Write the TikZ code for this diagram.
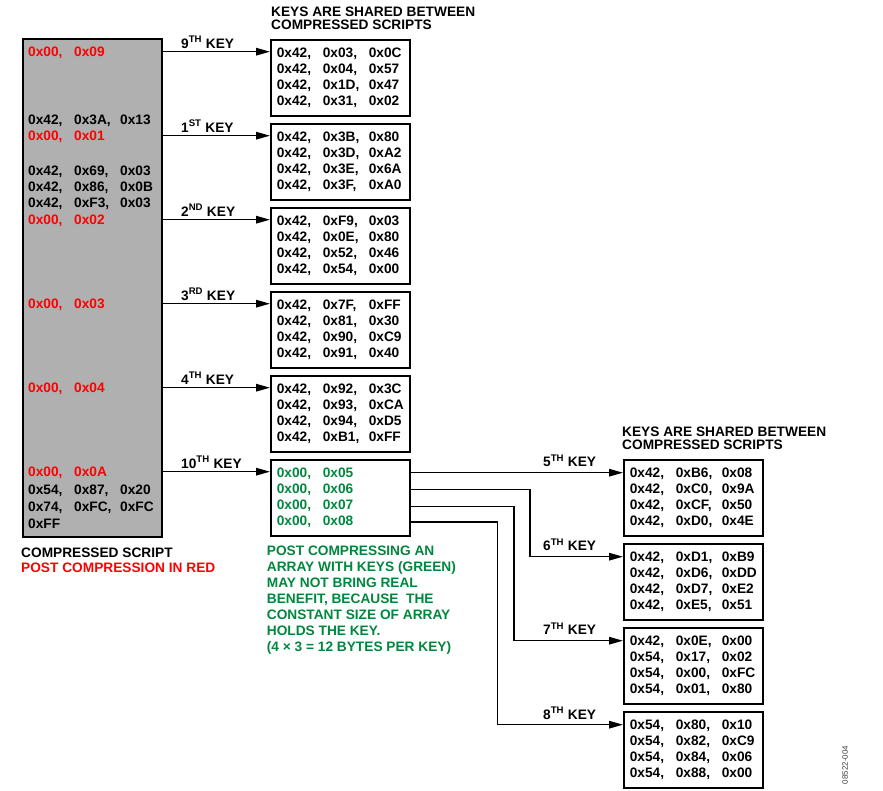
\documentclass[tikz,border=0pt]{standalone}
\usepackage{fontspec}
\setmainfont{Liberation Sans}
\usetikzlibrary{arrows.meta,calc}
\definecolor{adred}{RGB}{255,0,0}
\definecolor{adgreen}{RGB}{0,135,62}
\definecolor{boxgray}{RGB}{176,176,176}
\newcommand\hxrow[3]{\makebox[46pt][l]{#1}\makebox[46pt][l]{#2}#3}
\begin{document}
\begin{tikzpicture}[x=1pt,y=-1pt,
  txt/.style={font=\fontsize{13.7}{16.2}\selectfont\bfseries, inner sep=0pt},
  lbl/.style={txt, anchor=base west},
  keybox/.style={draw, line width=1.7pt, minimum width=139pt, minimum height=76pt,
    anchor=north west, text width=127pt, inner xsep=6pt, inner ysep=0pt, align=left,
    font=\fontsize{13.7}{16.2}\selectfont\bfseries},
  arr/.style={line width=1.5pt, -{Triangle[length=14pt,width=7.5pt]}},
]
\useasboundingbox (0,0) rectangle (883,791);

% compressed script box
\node[draw, line width=1.7pt, fill=boxgray, minimum width=139pt, minimum height=498pt,
      anchor=north west, inner sep=0pt] (gb) at (22,38) {};
\node[lbl, text=adred] (g1) at (28,56.4) {\hxrow{0x00,}{0x09}{}};
\node[lbl] (g2) at (28,125.0) {\hxrow{0x42,}{0x3A,}{0x13}};
\node[lbl, text=adred] (g3) at (28,140.4) {\hxrow{0x00,}{0x01}{}};
\node[lbl] (g4) at (28,175.4) {\hxrow{0x42,}{0x69,}{0x03}};
\node[lbl] (g5) at (28,191.1) {\hxrow{0x42,}{0x86,}{0x0B}};
\node[lbl] (g6) at (28,207.4) {\hxrow{0x42,}{0xF3,}{0x03}};
\node[lbl, text=adred] (g7) at (28,224.4) {\hxrow{0x00,}{0x02}{}};
\node[lbl, text=adred] (g8) at (28,308.4) {\hxrow{0x00,}{0x03}{}};
\node[lbl, text=adred] (g9) at (28,392.4) {\hxrow{0x00,}{0x04}{}};
\node[lbl, text=adred] (g10) at (28,476.4) {\hxrow{0x00,}{0x0A}{}};
\node[lbl] (g11) at (28,494.7) {\hxrow{0x54,}{0x87,}{0x20}};
\node[lbl] (g12) at (28,511.7) {\hxrow{0x74,}{0xFC,}{0xFC}};
\node[lbl] (g13) at (28,528.7) {0xFF};

\node[lbl] (cs1) at (21,557.3) {COMPRESSED SCRIPT};
\node[lbl, text=adred] (cs2) at (21,572.7) {POST COMPRESSION IN RED};

% headers
\node[lbl] (h1a) at (271,16.7) {KEYS ARE SHARED BETWEEN};
\node[lbl] (h1b) at (271,29.3) {COMPRESSED SCRIPTS};
\node[lbl] (h2a) at (622,436.7) {KEYS ARE SHARED BETWEEN};
\node[lbl] (h2b) at (622,449.3) {COMPRESSED SCRIPTS};

% left column key boxes
\node[keybox] (k9) at (270,39) {\hxrow{0x42,}{0x03,}{0x0C}\\\hxrow{0x42,}{0x04,}{0x57}\\\hxrow{0x42,}{0x1D,}{0x47}\\\hxrow{0x42,}{0x31,}{0x02}};
\node[keybox] (k1) at (270,123) {\hxrow{0x42,}{0x3B,}{0x80}\\\hxrow{0x42,}{0x3D,}{0xA2}\\\hxrow{0x42,}{0x3E,}{0x6A}\\\hxrow{0x42,}{0x3F,}{0xA0}};
\node[keybox] (k2) at (270,207) {\hxrow{0x42,}{0xF9,}{0x03}\\\hxrow{0x42,}{0x0E,}{0x80}\\\hxrow{0x42,}{0x52,}{0x46}\\\hxrow{0x42,}{0x54,}{0x00}};
\node[keybox] (k3) at (270,291) {\hxrow{0x42,}{0x7F,}{0xFF}\\\hxrow{0x42,}{0x81,}{0x30}\\\hxrow{0x42,}{0x90,}{0xC9}\\\hxrow{0x42,}{0x91,}{0x40}};
\node[keybox] (k4) at (270,375) {\hxrow{0x42,}{0x92,}{0x3C}\\\hxrow{0x42,}{0x93,}{0xCA}\\\hxrow{0x42,}{0x94,}{0xD5}\\\hxrow{0x42,}{0xB1,}{0xFF}};
\node[keybox, text=adgreen] (k10) at (270,459) {\hxrow{0x00,}{0x05}{}\\\hxrow{0x00,}{0x06}{}\\\hxrow{0x00,}{0x07}{}\\\hxrow{0x00,}{0x08}{}};

% right column key boxes
\node[keybox] (k5) at (623,459) {\hxrow{0x42,}{0xB6,}{0x08}\\\hxrow{0x42,}{0xC0,}{0x9A}\\\hxrow{0x42,}{0xCF,}{0x50}\\\hxrow{0x42,}{0xD0,}{0x4E}};
\node[keybox] (k6) at (623,543) {\hxrow{0x42,}{0xD1,}{0xB9}\\\hxrow{0x42,}{0xD6,}{0xDD}\\\hxrow{0x42,}{0xD7,}{0xE2}\\\hxrow{0x42,}{0xE5,}{0x51}};
\node[keybox] (k7) at (623,627) {\hxrow{0x42,}{0x0E,}{0x00}\\\hxrow{0x54,}{0x17,}{0x02}\\\hxrow{0x54,}{0x00,}{0xFC}\\\hxrow{0x54,}{0x01,}{0x80}};
\node[keybox] (k8) at (623,711) {\hxrow{0x54,}{0x80,}{0x10}\\\hxrow{0x54,}{0x82,}{0xC9}\\\hxrow{0x54,}{0x84,}{0x06}\\\hxrow{0x54,}{0x88,}{0x00}};

% arrows from compressed script
\foreach \k in {9,1,2,3,4,10}{
  \coordinate (a\k) at ($(k\k.north west)+(0,12.7)$);
  \draw[arr] (gb.east |- a\k) -- (a\k);
}
\node[lbl] (l9) at (181,48.2) {9\textsuperscript{TH} KEY};
\node[lbl] (l1) at (181,132.2) {1\textsuperscript{ST} KEY};
\node[lbl] (l2) at (181,216.2) {2\textsuperscript{ND} KEY};
\node[lbl] (l3) at (181,300.2) {3\textsuperscript{RD} KEY};
\node[lbl] (l4) at (181,384.2) {4\textsuperscript{TH} KEY};
\node[lbl] (l10) at (181,468.2) {10\textsuperscript{TH} KEY};

% arrows from green array
\coordinate (r5) at ($(k10.north east)+(0,13.7)$);
\coordinate (r6) at ($(k10.north east)+(0,30.3)$);
\coordinate (r7) at ($(k10.north east)+(0,47.7)$);
\coordinate (r8) at ($(k10.north east)+(0,63)$);
\foreach \k in {5,6,7,8}{\coordinate (t\k) at ($(k\k.north west)+(0,13.7)$);}
\coordinate (v6) at (530,0);
\coordinate (v7) at (514,0);
\coordinate (v8) at (497.5,0);
\draw[arr] (r5) -- (t5);
\draw[arr] (r6) -- (r6 -| v6) |- (t6);
\draw[arr] (r7) -- (r7 -| v7) |- (t7);
\draw[arr] (r8) -- (r8 -| v8) |- (t8);
\node[lbl] (l5) at (543,466.7) {5\textsuperscript{TH} KEY};
\node[lbl] (l6) at (543,550.7) {6\textsuperscript{TH} KEY};
\node[lbl] (l7) at (543,634.7) {7\textsuperscript{TH} KEY};
\node[lbl] (l8) at (543,719.0) {8\textsuperscript{TH} KEY};

% green note
\node[lbl, text=adgreen] (n1) at (266.7,555) {POST COMPRESSING AN};
\node[lbl, text=adgreen] (n2) at (266.7,571) {ARRAY WITH KEYS (GREEN)};
\node[lbl, text=adgreen] (n3) at (266.7,587) {MAY NOT BRING REAL};
\node[lbl, text=adgreen] (n4) at (266.7,603) {BENEFIT, BECAUSE\ \ THE};
\node[lbl, text=adgreen] (n5) at (266.7,619) {CONSTANT SIZE OF ARRAY};
\node[lbl, text=adgreen] (n6) at (266.7,635) {HOLDS THE KEY.};
\node[lbl, text=adgreen] (n7) at (266.7,651) {(4 × 3 = 12 BYTES PER KEY)};

% figure id
\node[font=\fontsize{8}{9}\selectfont, rotate=90, text=black!75, inner sep=0pt] (fid) at (845,765) {08522-004};
\end{tikzpicture}
\end{document}
